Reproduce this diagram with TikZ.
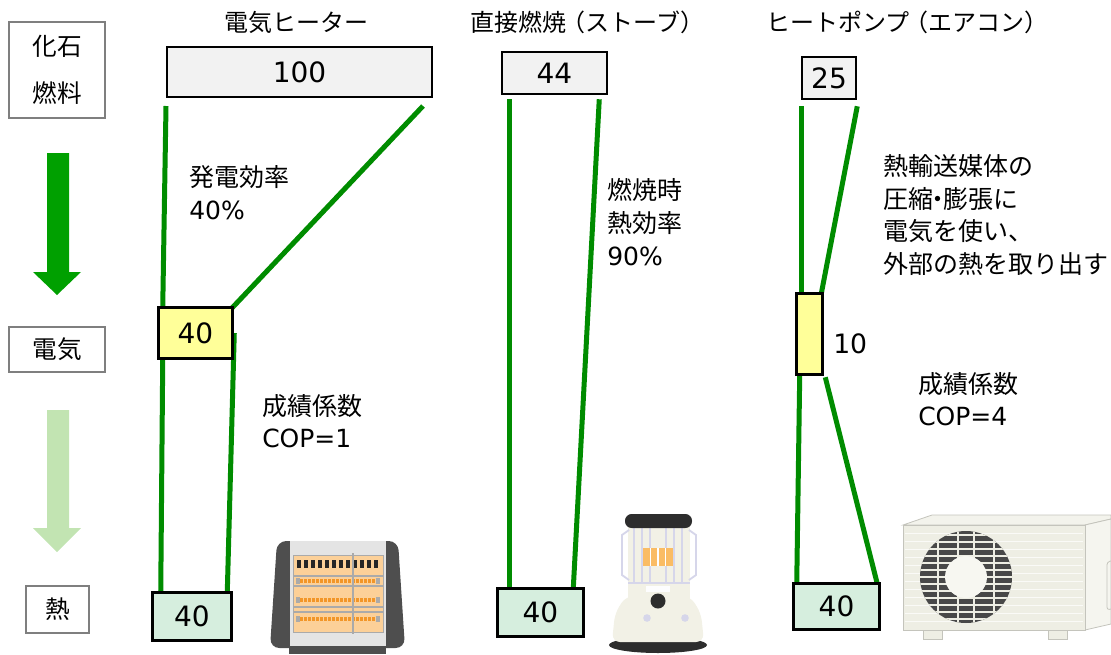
\documentclass[tikz,border=0pt]{standalone}
\usepackage{fontspec}
\setmainfont{Noto Sans CJK JP}
\newfontfamily\lat{DejaVu Sans}
\usetikzlibrary{fit}

\definecolor{flow}{RGB}{0,140,0}
\definecolor{arrowdark}{RGB}{0,160,0}
\definecolor{arrowlight}{RGB}{194,228,178}
\definecolor{srcfill}{RGB}{242,242,242}
\definecolor{elecfill}{RGB}{255,255,153}
\definecolor{heatfill}{RGB}{214,238,222}
\definecolor{tagline}{RGB}{127,127,127}
\definecolor{heaterdark}{RGB}{78,78,78}
\definecolor{heaterpanel}{RGB}{228,228,228}
\definecolor{grille}{RGB}{252,208,152}
\definecolor{element}{RGB}{242,150,40}
\definecolor{railgray}{RGB}{170,170,170}
\definecolor{stovecream}{RGB}{242,241,230}
\definecolor{stovedark}{RGB}{45,45,45}
\definecolor{lavender}{RGB}{214,214,234}
\definecolor{flame}{RGB}{250,188,100}
\definecolor{acbody}{RGB}{238,238,228}
\definecolor{acedge}{RGB}{196,196,188}
\definecolor{acfan}{RGB}{72,72,72}

\begin{document}
\begin{tikzpicture}[x=0.75pt,y=-0.75pt,
  tag/.style={draw=tagline, line width=1.1pt, fill=white, inner sep=0pt},
  tagtext/.style={align=center, inner sep=0pt, font=\fontsize{18.5}{35}\selectfont},
  numbox/.style={draw=black, line width=1.9pt, inner sep=0pt},
  numtext/.style={inner sep=0pt, font=\lat\fontsize{21}{24}\selectfont},
  flowline/.style={draw=flow, line width=3.75pt},
  title/.style={font=\fontsize{18}{22}\selectfont},
  note/.style={anchor=west, align=left, inner sep=0pt,
    font=\fontsize{18.75}{24.5}\selectfont},
  paren/.style={}]
\useasboundingbox (0,0) rectangle (1111,654);

% ---------- stage labels and arrows ----------
\node[tag, fit={(9,22) (105,118)}] (fossil) {};
\node[tagtext] (fossilT) at (fossil.center) {化石\\燃料};
\node[tag, fit={(9,327) (105,372)}] (elec) {};
\node[tagtext] (elecT) at (elec.center) {電気};
\node[tag, fit={(26,586) (89,633)}] (heat) {};
\node[tagtext] (heatT) at (heat.center) {熱};
\fill[arrowdark] (47,153) -- (69,153) -- (69,272) -- (81,272) -- (57,295)
  -- (33,272) -- (47,272) -- cycle;
\fill[arrowlight] (47,410) -- (69,410) -- (69,528) -- (81,528) -- (57,552)
  -- (33,528) -- (47,528) -- cycle;

% ---------- column titles ----------
\node[title] (t1) at (296,22) {電気ヒーター};
\node[title] (t2) at (585,22) {直接燃焼\kern-0.2em（ストーブ）\kern-0.2em};
\node[title] (t3) at (905,22) {ヒートポンプ\kern-0.2em（エアコン）\kern-0.2em};

% ---------- electric heater ----------
\coordinate (eA) at (166,106);
\coordinate (eB) at (423,106);
\node[numbox, fill=srcfill, fit={(167,47) (432,97)}] (e100) {};
\node[numtext] at (e100.center) {100};
\path (159,308) coordinate (e40nw) (232,358) coordinate (e40se);
\node[fit={(e40nw) (e40se)}, inner sep=0pt] (e40) {};
\node[fit={(153,593) (231,640)}, inner sep=0pt] (eh) {};
\draw[flowline] (eA) -- ([xshift=3pt]e40.north west);
\draw[flowline] (eB) -- (e40.north east);
\draw[flowline] ([xshift=3pt]e40.south west) -- ([xshift=6pt]eh.north west);
\draw[flowline] ([xshift=1.5pt]e40.east) -- ([xshift=-3pt]eh.north east);
\draw[numbox, fill=elecfill] (e40.north west) rectangle (e40.south east);
\node[numtext] at (e40.center) {40};
\draw[numbox, fill=heatfill] (eh.north west) rectangle (eh.south east);
\node[numtext] at (eh.center) {40};

\node[note] (n1) at (189,192.5) {発電効率\\{\lat 40\%}};
\node[note] (n2) at (262,421) {成績係数\\{\lat COP=1}};

% ---------- kerosene stove ----------
\node[numbox, fill=srcfill, fit={(502,52) (607,94)}] (s44) {};
\node[numtext] at (s44.center) {44};
\node[fit={(498,589) (583,636)}, inner sep=0pt] (sh) {};
\draw[flowline] ([xshift=6.75pt,yshift=-3pt]s44.south west) -- ([xshift=9pt]sh.north west);
\draw[flowline] ([xshift=-6.75pt,yshift=-3pt]s44.south east) -- ([xshift=-7.5pt]sh.north east);
\draw[numbox, fill=heatfill] (sh.north west) rectangle (sh.south east);
\node[numtext] at (sh.center) {40};
\node[note] (n3) at (607,222) {燃焼時\\熱効率\\{\lat 90\%}};

% ---------- heat pump ----------
\node[numbox, fill=srcfill, fit={(802,57) (856,99)}] (p25) {};
\node[numtext] at (p25.center) {25};
\node[fit={(797,294) (822,374)}, inner sep=0pt] (p10) {};
\node[fit={(794,584) (879,629)}, inner sep=0pt] (ph) {};
\draw[flowline] ([xshift=0.75pt,yshift=-4.5pt]p25.south west) -- ([xshift=3.75pt]p10.north west);
\draw[flowline] ([yshift=-4.5pt]p25.south east) -- ([xshift=-0.75pt]p10.north east);
\draw[flowline] ([xshift=2.25pt]p10.south west) -- ([xshift=2.25pt]ph.north west);
\draw[flowline] ([xshift=2.25pt,yshift=-2.25pt]p10.south east) -- ([xshift=-1.5pt]ph.north east);
\draw[numbox, fill=elecfill] (p10.north west) rectangle (p10.south east);
\draw[numbox, fill=heatfill] (ph.north west) rectangle (ph.south east);
\node[numtext] at (ph.center) {40};
\node[anchor=west, inner sep=0pt, font=\lat\fontsize{20}{24}\selectfont] (p10lbl) at (833,344) {10};
\node[note] (n4) at (883,215) {熱輸送媒体の\\圧縮\kern-0.3em・\kern-0.3em膨張に\\電気を使い、\\外部の熱を取り出す};
\node[note] (n5) at (918,399) {成績係数\\{\lat COP=4}};

% ---------- electric heater illustration ----------
\fill[heaterdark, rounded corners=7] (277,541) -- (398,541) -- (405,648)
  -- (270,648) -- cycle;
\fill[heaterdark] (289,640) rectangle (386,654);
\fill[heaterpanel] (290,541) rectangle (386,646);
\filldraw[fill=grille, draw=railgray, line width=0.6pt] (293,555) rectangle (383,632);
\foreach \i in {0,...,11} {
  \fill[black!85] (297+\i*7,560) rectangle (300.5+\i*7,568);
}
\foreach \yy in {576,586,607,612} {
  \draw[railgray, line width=0.9pt] (293,\yy) -- (383,\yy);
}
\foreach \yy in {581,600,619} {
  \draw[element, line width=2.6pt, dash pattern=on 2.2pt off 0.8pt] (300,\yy) -- (376,\yy);
  \fill[railgray] (296,\yy-3) rectangle (300,\yy+3);
  \fill[railgray] (376,\yy-3) rectangle (380,\yy+3);
}
\draw[railgray, line width=1pt] (353,553) -- (353,634);

% ---------- kerosene stove illustration ----------
\fill[stovedark] (658,645) ellipse [x radius=49, y radius=8];
\fill[stovecream, rounded corners=6] (626,596) -- (690,596) -- (701,613)
  -- (704,642) -- (612,642) -- (615,613) -- cycle;
\fill[stovecream] (628,524) rectangle (690,600);
\foreach \xx in {634,642,650,666,674,682} {
  \draw[lavender, line width=1.1pt] (\xx,528) -- (\xx,583);
}
\draw[lavender, line width=1.4pt] (629,530) -- (622,535) -- (622,575) -- (629,580);
\draw[lavender, line width=1.4pt] (689,530) -- (696,535) -- (696,575) -- (689,580);
\draw[lavender, line width=1.2pt] (628,583) -- (690,583);
\fill[flame] (643,548) rectangle (673,566);
\foreach \xx in {650.5,658,665.5} {
  \draw[white, line width=1pt] (\xx,548) -- (\xx,566);
}
\fill[stovedark, rounded corners=5] (625,514) rectangle (692,528);
\fill[white!95!lavender] (646,586) rectangle (670,592);
\fill[stovedark] (658,601) circle [radius=7.5];
\fill[lavender] (647,618) circle [radius=3.8];
\fill[lavender] (685,618) circle [radius=3.8];

% ---------- outdoor unit illustration ----------
\filldraw[fill=acbody!70!white, draw=acedge, line width=0.6pt]
  (903,525) -- (932,515) -- (1111,515) -- (1111,519) -- (1085,525) -- cycle;
\filldraw[fill=acbody!60!white, draw=acedge, line width=0.6pt]
  (1085,525) -- (1111,519) -- (1111,624) -- (1085,630) -- cycle;
\draw[acedge, line width=0.6pt, rounded corners=2] (1111,561) -- (1107,562) -- (1107,610) -- (1111,609);
\filldraw[fill=acbody, draw=acedge, line width=0.6pt] (903,525) rectangle (1085,630);
\foreach \yy in {533,541,...,625} {
  \draw[white!70!acbody, line width=0.7pt] (905,\yy) -- (1083,\yy);
}
\fill[acfan] (966,577) circle [radius=46];
\begin{scope}
  \clip (966,577) circle [radius=46];
  \foreach \yy in {535,542,...,625} {
    \draw[acbody, line width=1.1pt] (918,\yy) -- (1014,\yy);
  }
  \foreach \xx in {938,958,974,994} {
    \draw[acbody, line width=1.3pt] (\xx,528) -- (\xx,626);
  }
\end{scope}
\fill[acbody!50!white] (966,577) circle [radius=21];
\filldraw[fill=acbody, draw=acedge, line width=0.6pt] (923,630) rectangle (942,639);
\filldraw[fill=acbody, draw=acedge, line width=0.6pt] (1048,630) rectangle (1067,639);
\end{tikzpicture}
\end{document}
